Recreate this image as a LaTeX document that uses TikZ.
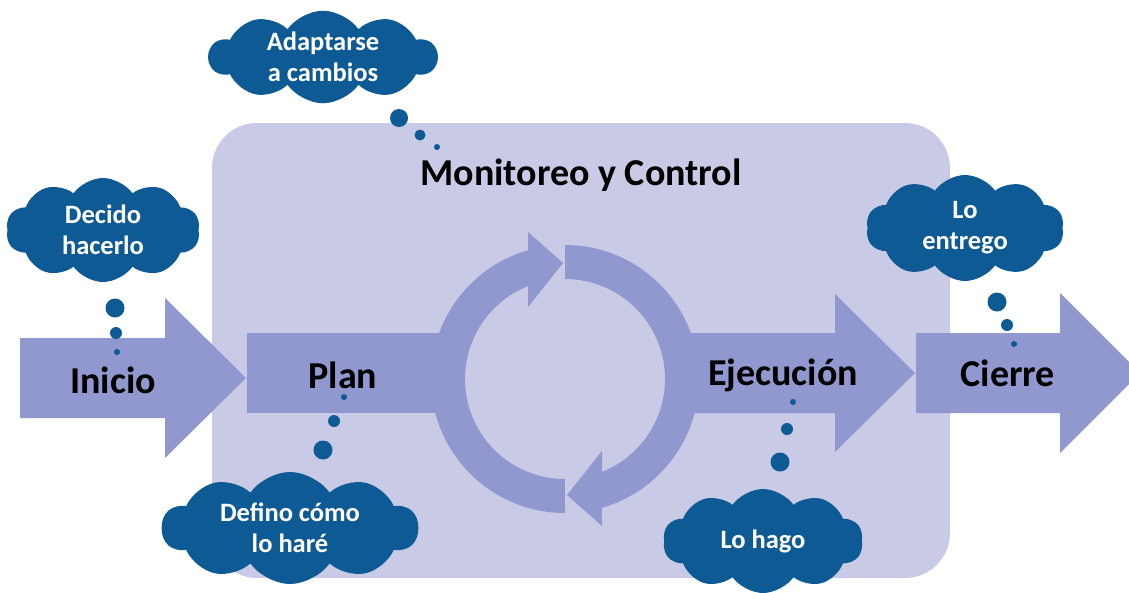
\documentclass[tikz,border=0pt]{standalone}
\usepackage{fontspec}
\setmainfont{Carlito}
\usetikzlibrary{shapes.symbols}
\definecolor{boxlav}{RGB}{200,202,230}
\definecolor{arrlav}{RGB}{145,151,207}
\definecolor{cloudblue}{RGB}{14,90,148}
\tikzset{
  bigtxt/.style={font=\fontsize{38}{40}\selectfont\bfseries, text=black, inner sep=0pt},
  thought/.style={cloud, cloud puffs=10, cloud puff arc=110, cloud ignores aspect,
    fill=cloudblue, draw=none, text=white, align=center, inner sep=0pt,
    font=\fontsize{26.5}{31}\selectfont\bfseries},
  bubble/.style={circle, fill=cloudblue, draw=none, inner sep=0pt},
}
\begin{document}
\begin{tikzpicture}[x=1pt,y=-1pt]
\useasboundingbox (0,0) rectangle (1129,592);
\clip (0,0) rectangle (1129,592);
\fill[white] (0,0) rectangle (1129,592);
% monitoring box
\fill[boxlav, rounded corners=45] (212,123) rectangle (950,578);
% Inicio arrow
\fill[arrlav] (20,338) -- (165,338) -- (165,298) -- (246,378) -- (165,458) -- (165,418) -- (20,418) -- cycle;
% Plan body (ends inside the ring)
\fill[arrlav] (247,333) -- (450,333) -- (450,413) -- (247,413) -- cycle;
% Ejecucion arrow (starts inside the ring)
\fill[arrlav] (680,333) -- (835,333) -- (835,294) -- (915,373) -- (835,452) -- (835,413) -- (680,413) -- cycle;
% Cierre arrow
\fill[arrlav] (916,333) -- (1060,333) -- (1060,293) -- (1140,373) -- (1060,453) -- (1060,413) -- (916,413) -- cycle;
% circular arrows
\fill[arrlav] (565,513) arc[start angle=-270, end angle=-106, radius=134]
  -- (528,232) -- (563,263) -- (528,307) -- (528,286.1)
  arc[start angle=-111.7, end angle=-270, radius=100] -- cycle;
\fill[arrlav] (565,245) arc[start angle=-90, end angle=74, radius=134]
  -- (602,526) -- (567,495) -- (602,451) -- (602,471.9)
  arc[start angle=68.3, end angle=-90, radius=100] -- cycle;
% labels
\node[bigtxt] (inicio) at (113,380) {Inicio};
\node[bigtxt] (plan) at (343,375) {Plan};
\node[bigtxt] (ejec) at (783,375) {Ejecución};
\node[bigtxt] (cierre) at (1008,373) {Cierre};
\node[bigtxt] (monit) at (581,175) {Monitoreo y Control};
% clouds
\node[thought, minimum width=228, minimum height=92] (cadapt) at (323,57) {Adaptarse\\a cambios};
\node[thought, minimum width=194, minimum height=104] (cdecido) at (103,230) {Decido\\hacerlo};
\node[thought, minimum width=198, minimum height=106] (centrego) at (965,228) {Lo\\entrego};
\node[thought, minimum width=256, minimum height=112] (cdefino) at (290,528) {Defino cómo\\lo haré};
\node[thought, minimum width=200, minimum height=104] (chago) at (763,541) {Lo hago};
% bubbles
\node[bubble, minimum size=18] (a1) at (399,118) {};
\node[bubble, minimum size=11] (a2) at (420,135) {};
\node[bubble, minimum size=6] (a3) at (437,147) {};
\node[bubble, minimum size=19] (d1) at (115,308) {};
\node[bubble, minimum size=12] (d2) at (116,333) {};
\node[bubble, minimum size=6] (d3) at (117,352) {};
\node[bubble, minimum size=19] (e1) at (997,302) {};
\node[bubble, minimum size=12] (e2) at (1007,325) {};
\node[bubble, minimum size=6] (e3) at (1014,344) {};
\node[bubble, minimum size=19] (p1) at (323,450) {};
\node[bubble, minimum size=12] (p2) at (334,421) {};
\node[bubble, minimum size=6] (p3) at (344,397) {};
\node[bubble, minimum size=19] (h1) at (780,462) {};
\node[bubble, minimum size=12] (h2) at (787,429) {};
\node[bubble, minimum size=6] (h3) at (793,402) {};
\end{tikzpicture}
\end{document}
